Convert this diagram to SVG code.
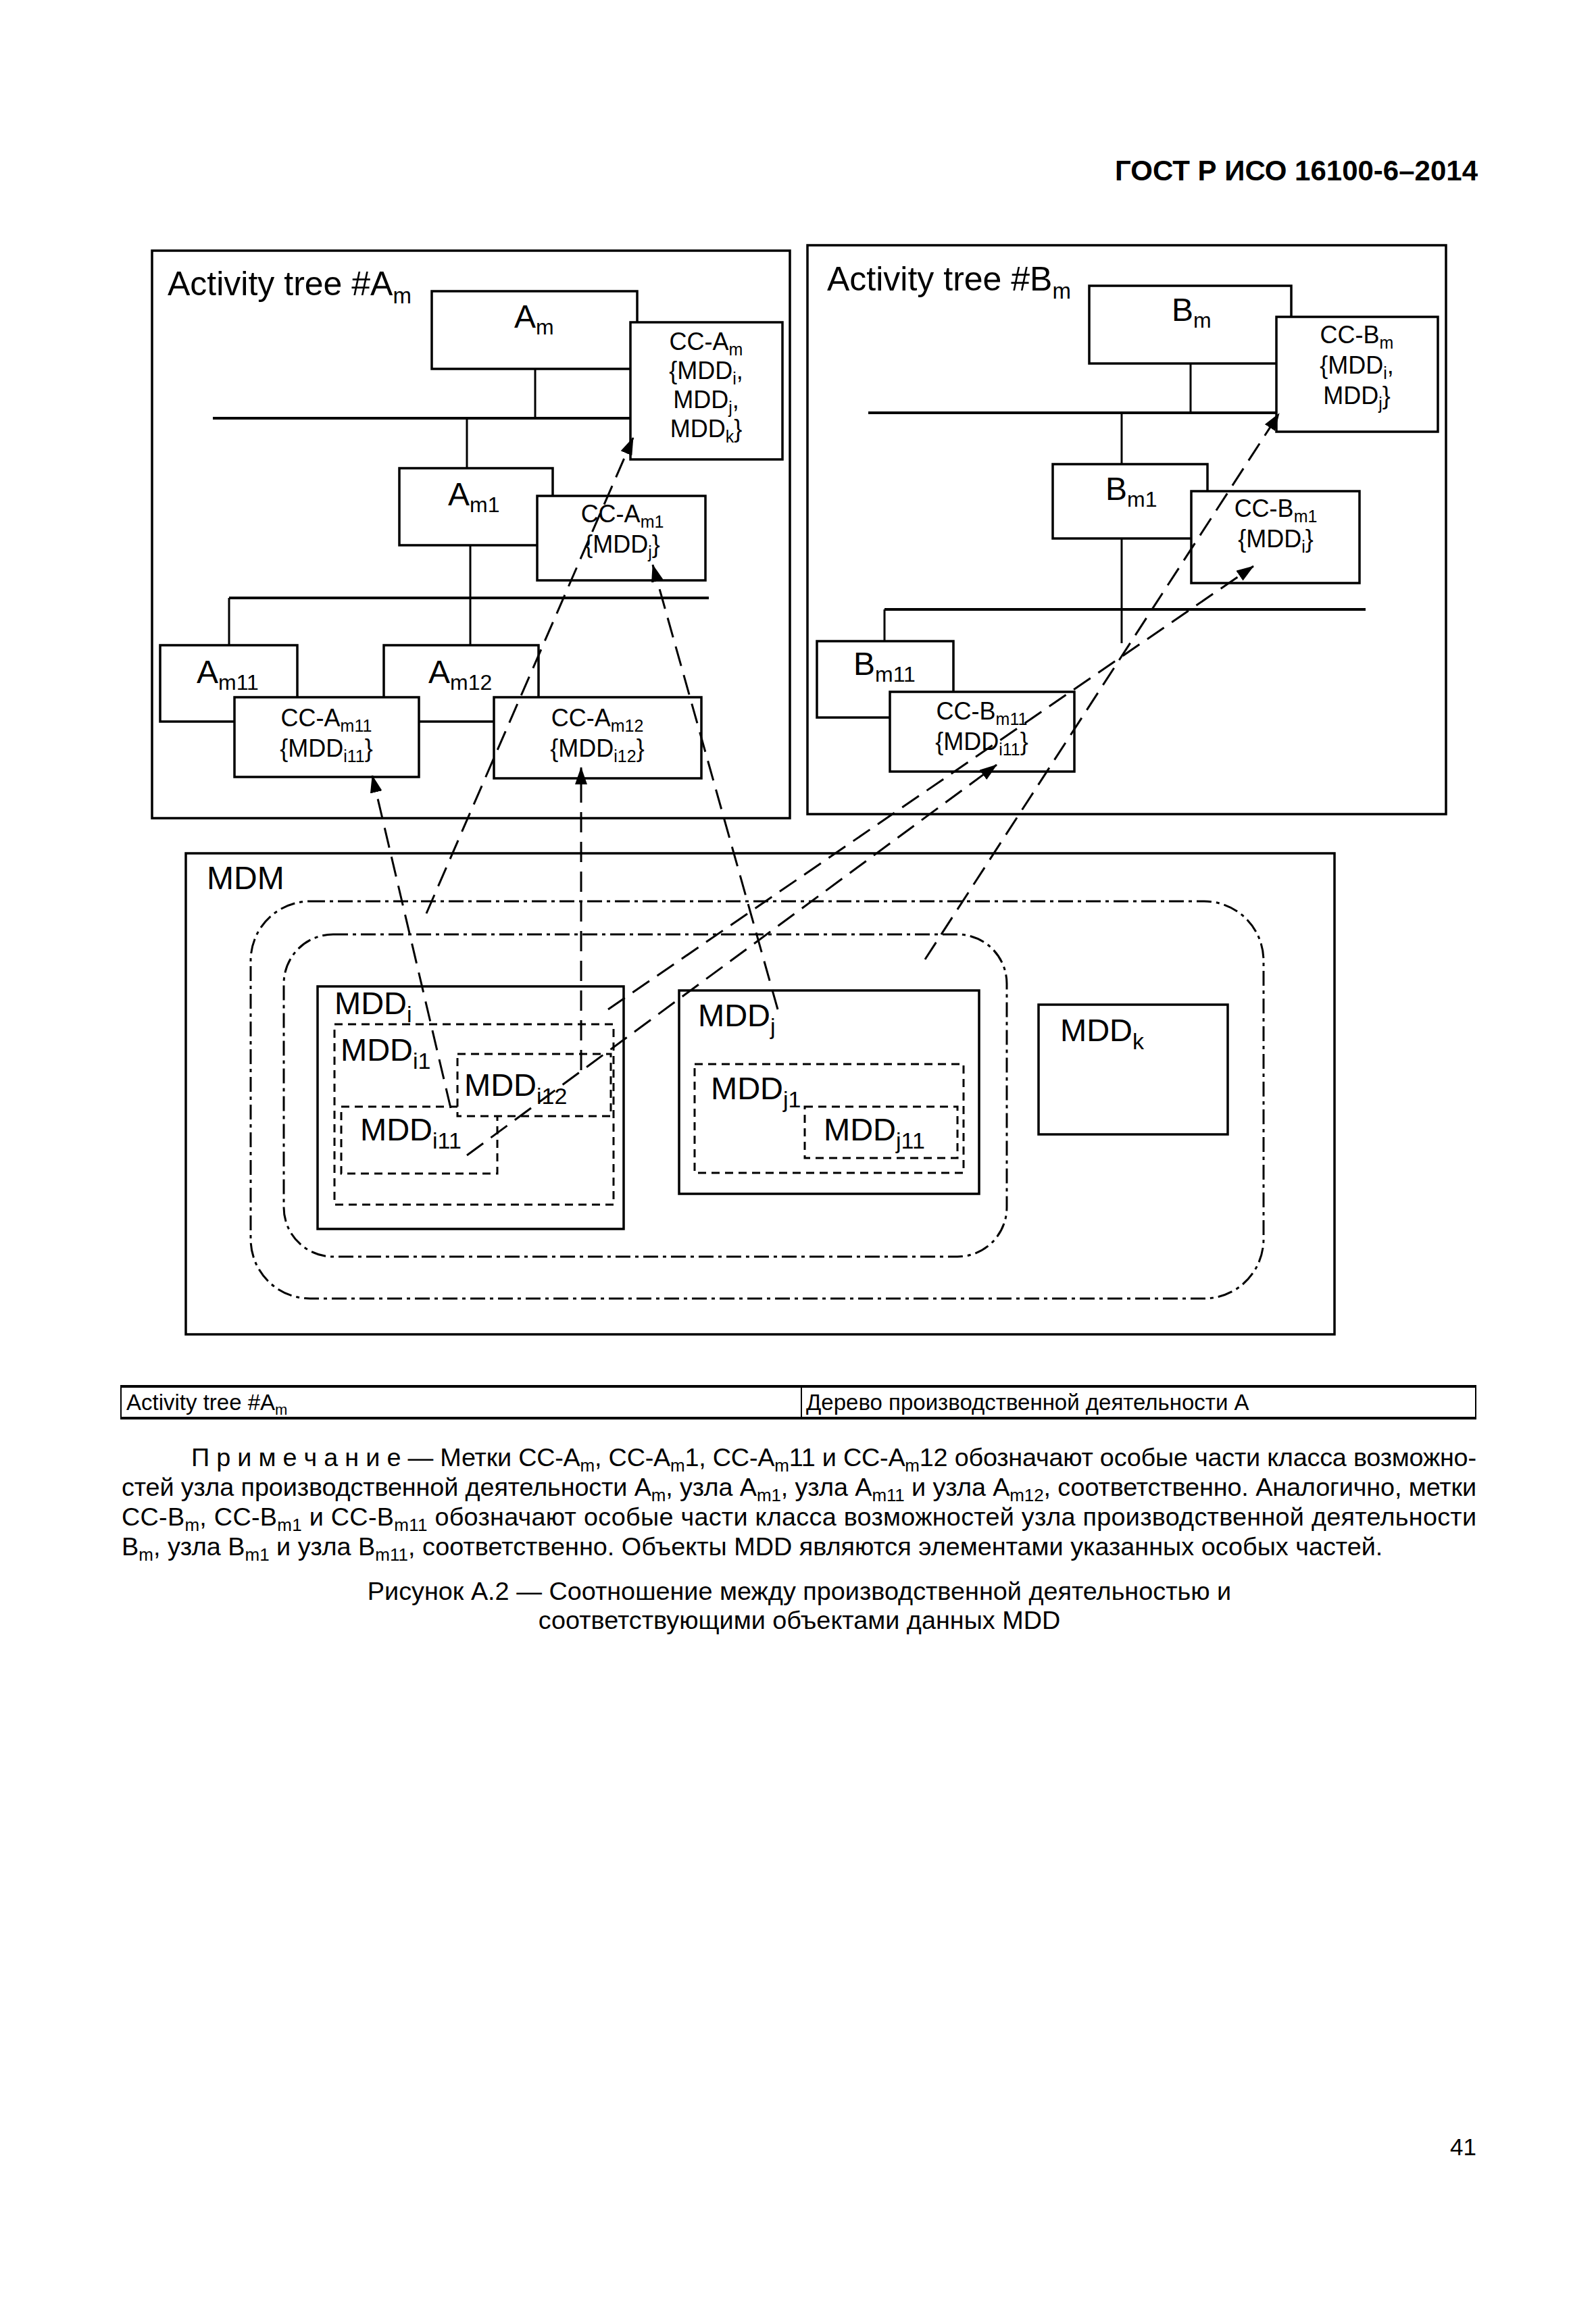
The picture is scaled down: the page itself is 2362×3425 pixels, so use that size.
<svg xmlns="http://www.w3.org/2000/svg" width="2362" height="3425" viewBox="0 0 2362 3425">
<defs>
<style>
text{font-family:"Liberation Sans",Arial,sans-serif;fill:#000}
.lbl{font-size:48px}
.ttl{font-size:50px}
.cc{font-size:36px;text-anchor:middle}
.mdd{font-size:47px}
.note{font-size:37.8px}
.box{fill:#fff;stroke:#000;stroke-width:3.5}
.frame{fill:none;stroke:#000;stroke-width:3.5}
.bus{fill:none;stroke:#000;stroke-width:4}
.ln{fill:none;stroke:#000;stroke-width:3}
.dd{fill:none;stroke:#000;stroke-width:3;stroke-dasharray:22 7 5 7}
.sd{fill:#fff;stroke:#000;stroke-width:3;stroke-dasharray:12 8}
.sdn{fill:none;stroke:#000;stroke-width:3;stroke-dasharray:12 8}
.con{fill:none;stroke:#000;stroke-width:3;stroke-dasharray:30 14;marker-end:url(#arr)}
</style>
<marker id="arr" markerUnits="userSpaceOnUse" markerWidth="26" markerHeight="18" refX="25" refY="9" orient="auto">
<path d="M0,0 L26,9 L0,18 z" fill="#000"/>
</marker>
</defs>
<rect width="2362" height="3425" fill="#fff"/>

<text x="2187" y="267" font-size="42" font-weight="bold" text-anchor="end">ГОСТ Р ИСО 16100-6–2014</text>

<!-- Left activity tree -->
<g id="tree-A">
<rect class="frame" x="225" y="371" width="944" height="840"/>
<text class="ttl" x="248" y="437">Activity tree #A<tspan dy="12" font-size="33">m</tspan></text>
<line class="bus" x1="315" y1="619" x2="933" y2="619"/>
<line class="ln" x1="792" y1="546" x2="792" y2="619"/>
<line class="ln" x1="691" y1="619" x2="691" y2="693"/>
<line class="ln" x1="696" y1="807" x2="696" y2="955"/>
<line class="bus" x1="339" y1="885" x2="1049" y2="885"/>
<line class="ln" x1="339" y1="885" x2="339" y2="955"/>
</g>
<g id="node-Am">
<rect class="box" x="639" y="431" width="304" height="115"/>
<text class="lbl" x="761" y="485">A<tspan dy="10" font-size="32">m</tspan></text>
</g>
<g id="node-CC-Am">
<rect class="box" x="933" y="477" width="225" height="203"/>
<text class="cc" x="1045" y="518">CC-A<tspan dy="8" font-size="25">m</tspan></text>
<text class="cc" x="1045" y="561">{MDD<tspan dy="8" font-size="25">i</tspan><tspan dy="-8">,</tspan></text>
<text class="cc" x="1045" y="604">MDD<tspan dy="8" font-size="25">j</tspan><tspan dy="-8">,</tspan></text>
<text class="cc" x="1045" y="647">MDD<tspan dy="8" font-size="25">k</tspan><tspan dy="-8">}</tspan></text>
</g>
<g id="node-Am1">
<rect class="box" x="591" y="693" width="227" height="114"/>
<text class="lbl" x="663" y="748">A<tspan dy="10" font-size="32">m1</tspan></text>
</g>
<g id="node-CC-Am1">
<rect class="box" x="795" y="734" width="249" height="125"/>
<text class="cc" x="921" y="773">CC-A<tspan dy="8" font-size="25">m1</tspan></text>
<text class="cc" x="921" y="818">{MDD<tspan dy="8" font-size="25">j</tspan><tspan dy="-8">}</tspan></text>
</g>
<g id="node-Am11">
<rect class="box" x="237" y="955" width="203" height="113"/>
<text class="lbl" x="291" y="1011">A<tspan dy="10" font-size="32">m11</tspan></text>
</g>
<g id="node-Am12">
<rect class="box" x="568" y="955" width="229" height="113"/>
<text class="lbl" x="634" y="1011">A<tspan dy="10" font-size="32">m12</tspan></text>
</g>
<g id="node-CC-Am11">
<rect class="box" x="347" y="1032" width="273" height="118"/>
<text class="cc" x="483" y="1075">CC-A<tspan dy="8" font-size="25">m11</tspan></text>
<text class="cc" x="483" y="1120">{MDD<tspan dy="8" font-size="25">i11</tspan><tspan dy="-8">}</tspan></text>
</g>
<g id="node-CC-Am12">
<rect class="box" x="731" y="1032" width="307" height="120"/>
<text class="cc" x="884" y="1075">CC-A<tspan dy="8" font-size="25">m12</tspan></text>
<text class="cc" x="884" y="1120">{MDD<tspan dy="8" font-size="25">i12</tspan><tspan dy="-8">}</tspan></text>
</g>

<!-- Right activity tree -->
<g id="tree-B">
<rect class="frame" x="1195" y="363" width="945" height="842"/>
<text class="ttl" x="1224" y="430">Activity tree #B<tspan dy="12" font-size="33">m</tspan></text>
<line class="bus" x1="1285" y1="611" x2="1889" y2="611"/>
<line class="ln" x1="1762" y1="538" x2="1762" y2="611"/>
<line class="ln" x1="1660" y1="611" x2="1660" y2="687"/>
<line class="ln" x1="1660" y1="797" x2="1660" y2="952"/>
<line class="bus" x1="1309" y1="902" x2="2021" y2="902"/>
<line class="ln" x1="1309" y1="902" x2="1309" y2="949"/>
</g>
<g id="node-Bm">
<rect class="box" x="1612" y="423" width="299" height="115"/>
<text class="lbl" x="1734" y="475">B<tspan dy="10" font-size="32">m</tspan></text>
</g>
<g id="node-CC-Bm">
<rect class="box" x="1889" y="469" width="239" height="170"/>
<text class="cc" x="2008" y="508">CC-B<tspan dy="8" font-size="25">m</tspan></text>
<text class="cc" x="2008" y="553">{MDD<tspan dy="8" font-size="25">i</tspan><tspan dy="-8">,</tspan></text>
<text class="cc" x="2008" y="598">MDD<tspan dy="8" font-size="25">j</tspan><tspan dy="-8">}</tspan></text>
</g>
<g id="node-Bm1">
<rect class="box" x="1558" y="687" width="229" height="110"/>
<text class="lbl" x="1636" y="740">B<tspan dy="10" font-size="32">m1</tspan></text>
</g>
<g id="node-CC-Bm1">
<rect class="box" x="1763" y="727" width="249" height="136"/>
<text class="cc" x="1888" y="765">CC-B<tspan dy="8" font-size="25">m1</tspan></text>
<text class="cc" x="1888" y="810">{MDD<tspan dy="8" font-size="25">i</tspan><tspan dy="-8">}</tspan></text>
</g>
<g id="node-Bm11">
<rect class="box" x="1209" y="949" width="202" height="113"/>
<text class="lbl" x="1263" y="999">B<tspan dy="10" font-size="32">m11</tspan></text>
</g>
<g id="node-CC-Bm11">
<rect class="box" x="1317" y="1024" width="273" height="118"/>
<text class="cc" x="1453" y="1065">CC-B<tspan dy="8" font-size="25">m11</tspan></text>
<text class="cc" x="1453" y="1110">{MDD<tspan dy="8" font-size="25">i11</tspan><tspan dy="-8">}</tspan></text>
</g>

<!-- MDM -->
<g id="MDM">
<rect class="frame" x="275" y="1263" width="1700" height="712"/>
<text class="lbl" x="306" y="1316">MDM</text>
<rect class="dd" x="371" y="1334" width="1499" height="588" rx="88" ry="88"/>
<rect class="dd" x="420" y="1383" width="1070" height="477" rx="73" ry="73"/>
</g>
<g id="MDDi">
<rect class="box" x="470" y="1460" width="453" height="359"/>
<text class="mdd" x="495" y="1501">MDD<tspan dy="12" font-size="34">i</tspan></text>
</g>
<g id="MDDi1">
<rect class="sdn" x="495" y="1516" width="413" height="267"/>
<text class="mdd" x="504" y="1570">MDD<tspan dy="12" font-size="34">i1</tspan></text>
</g>
<g id="MDDi11">
<rect class="sdn" x="505" y="1638" width="231" height="99"/>
<text class="mdd" x="533" y="1688">MDD<tspan dy="12" font-size="34">i11</tspan></text>
</g>
<g id="MDDi12">
<rect class="sd" x="677" y="1560" width="227" height="92"/>
<text class="mdd" x="687" y="1622">MDD<tspan dy="12" font-size="34">i12</tspan></text>
</g>
<g id="MDDj">
<rect class="box" x="1005" y="1466" width="444" height="301"/>
<text class="mdd" x="1033" y="1519">MDD<tspan dy="12" font-size="34">j</tspan></text>
</g>
<g id="MDDj1">
<rect class="sdn" x="1028" y="1575" width="398" height="161"/>
<text class="mdd" x="1052" y="1627">MDD<tspan dy="12" font-size="34">j1</tspan></text>
</g>
<g id="MDDj11">
<rect class="sdn" x="1191" y="1638" width="226" height="76"/>
<text class="mdd" x="1219" y="1688">MDD<tspan dy="12" font-size="34">j11</tspan></text>
</g>
<g id="MDDk">
<rect class="box" x="1537" y="1487" width="280" height="192"/>
<text class="mdd" x="1569" y="1541">MDD<tspan dy="12" font-size="34">k</tspan></text>
</g>

<!-- Connectors -->
<g id="connectors">
<line class="con" x1="631" y1="1352" x2="937" y2="648"/>
<line class="con" x1="667" y1="1640" x2="551" y2="1148"/>
<line class="con" x1="860" y1="1584" x2="860" y2="1136"/>
<line class="con" x1="1151" y1="1494" x2="966" y2="836"/>
<line class="con" x1="900" y1="1494" x2="1855" y2="838"/>
<line class="con" x1="691" y1="1710" x2="1475" y2="1132"/>
<line class="con" x1="1369" y1="1420" x2="1893" y2="612"/>
</g>

<!-- Legend table -->
<g id="legend">
<line x1="178" y1="2052" x2="2185" y2="2052" stroke="#000" stroke-width="4"/>
<line x1="178" y1="2099" x2="2185" y2="2099" stroke="#000" stroke-width="4"/>
<line x1="179" y1="2052" x2="179" y2="2099" stroke="#000" stroke-width="2"/>
<line x1="2184" y1="2052" x2="2184" y2="2099" stroke="#000" stroke-width="2"/>
<line x1="1186" y1="2052" x2="1186" y2="2099" stroke="#000" stroke-width="2"/>
<text x="187" y="2087" font-size="33">Activity tree #A<tspan dy="7" font-size="22">m</tspan></text>
<text x="1193" y="2087" font-size="33">Дерево производственной деятельности А</text>
</g>

<!-- Note -->
<g id="note">
<text class="note" x="283" y="2170" textLength="1902" lengthAdjust="spacing">П р и м е ч а н и е — Метки CC-A<tspan dy="8" font-size="26">m</tspan><tspan dy="-8">, CC-A</tspan><tspan dy="8" font-size="26">m</tspan><tspan dy="-8">1, CC-A</tspan><tspan dy="8" font-size="26">m</tspan><tspan dy="-8">11 и CC-A</tspan><tspan dy="8" font-size="26">m</tspan><tspan dy="-8">12 обозначают особые части класса возможно-</tspan></text>
<text class="note" x="180" y="2214" textLength="2005" lengthAdjust="spacing">стей узла производственной деятельности A<tspan dy="8" font-size="26">m</tspan><tspan dy="-8">, узла A</tspan><tspan dy="8" font-size="26">m1</tspan><tspan dy="-8">, узла A</tspan><tspan dy="8" font-size="26">m11</tspan><tspan dy="-8"> и узла A</tspan><tspan dy="8" font-size="26">m12</tspan><tspan dy="-8">, соответственно. Аналогично, метки</tspan></text>
<text class="note" x="180" y="2258" textLength="2005" lengthAdjust="spacing">CC-B<tspan dy="8" font-size="26">m</tspan><tspan dy="-8">, CC-B</tspan><tspan dy="8" font-size="26">m1</tspan><tspan dy="-8"> и CC-B</tspan><tspan dy="8" font-size="26">m11</tspan><tspan dy="-8"> обозначают особые части класса возможностей узла производственной деятельности</tspan></text>
<text class="note" x="180" y="2302">B<tspan dy="8" font-size="26">m</tspan><tspan dy="-8">, узла B</tspan><tspan dy="8" font-size="26">m1</tspan><tspan dy="-8"> и узла B</tspan><tspan dy="8" font-size="26">m11</tspan><tspan dy="-8">, соответственно. Объекты MDD являются элементами указанных особых частей.</tspan></text>
<text class="note" x="1183" y="2368" text-anchor="middle" font-size="37.5">Рисунок А.2 — Соотношение между производственной деятельностью и</text>
<text class="note" x="1183" y="2411" text-anchor="middle" font-size="37.5">соответствующими объектами данных MDD</text>
</g>

<text x="2185" y="3190" font-size="35" text-anchor="end">41</text>
</svg>
